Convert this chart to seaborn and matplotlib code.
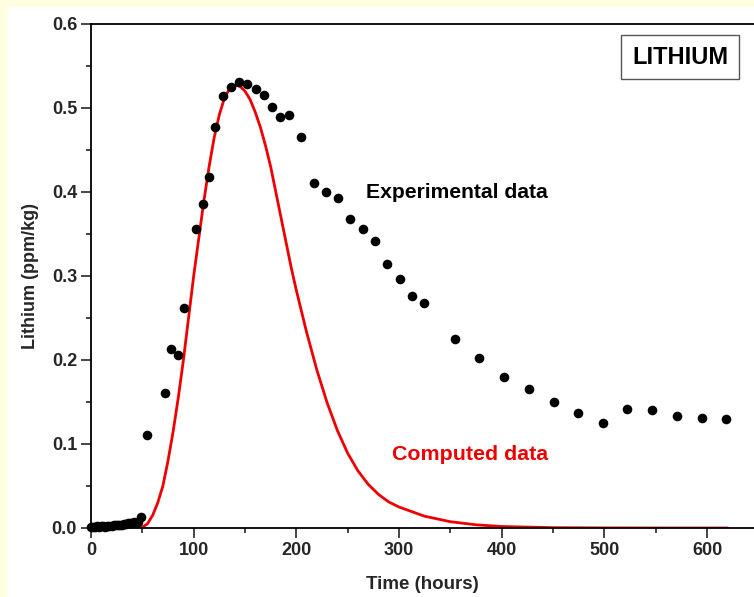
import numpy as np
import pandas as pd
import matplotlib
matplotlib.use("Agg")
import matplotlib.pyplot as plt
from matplotlib.patches import Rectangle
from matplotlib.ticker import MultipleLocator
import seaborn as sns

# ---- data ----
exp_time = [0, 2, 4, 6, 8, 10, 12, 14, 16, 18, 20, 22, 24, 26, 28, 30, 32, 34,
            36, 38, 40, 42, 44, 46, 49,
            54.5, 72, 78, 85, 90.6, 102, 109, 115, 121, 128.6, 136, 144, 152,
            160.7, 168.5, 176, 184, 193, 204.5, 217, 229, 241, 252, 265, 277,
            288, 301, 313, 324, 354.5, 378, 402, 427, 451, 474, 499, 522, 546,
            571, 595, 618.5]
exp_li = [0.001, 0.001, 0.001, 0.002, 0.001, 0.002, 0.002, 0.001, 0.002, 0.002,
          0.002, 0.003, 0.003, 0.003, 0.004, 0.004, 0.005, 0.005, 0.006, 0.006,
          0.006, 0.007, 0.006, 0.007, 0.013,
          0.111, 0.161, 0.213, 0.206, 0.262, 0.356, 0.386, 0.418, 0.477, 0.514,
          0.525, 0.531, 0.529, 0.523, 0.515, 0.501, 0.489, 0.492, 0.465, 0.411,
          0.400, 0.393, 0.368, 0.356, 0.342, 0.314, 0.296, 0.276, 0.268, 0.225,
          0.202, 0.180, 0.165, 0.150, 0.137, 0.125, 0.142, 0.140, 0.133, 0.131,
          0.130]

comp_time = [49, 55, 60, 65, 70, 75, 80, 85, 90, 95, 100, 105, 110, 115, 120,
             125, 130, 135, 140, 145, 150, 155, 160, 165, 170, 175, 180, 185,
             190, 195, 200, 210, 220, 230, 240, 250, 260, 270, 280, 290, 300,
             325, 350, 375, 400, 450, 500, 560, 620]
comp_li = [0.0, 0.005, 0.015, 0.03, 0.05, 0.08, 0.115, 0.155, 0.2, 0.25, 0.3,
           0.345, 0.39, 0.43, 0.465, 0.492, 0.512, 0.523, 0.527, 0.526, 0.52,
           0.51, 0.495, 0.477, 0.455, 0.43, 0.40, 0.37, 0.34, 0.31, 0.283,
           0.233, 0.188, 0.149, 0.116, 0.089, 0.068, 0.052, 0.040, 0.031, 0.025,
           0.014, 0.0075, 0.0038, 0.0018, 0.0004, 0.0001, 0.0, 0.0]

x_ticks = [0, 100, 200, 300, 400, 500, 600]
y_ticks = [0.0, 0.1, 0.2, 0.3, 0.4, 0.5, 0.6]

exp_df = pd.DataFrame({"time": exp_time, "li": exp_li})
comp_df = pd.DataFrame({"time": comp_time, "li": comp_li})

sns.set_style("ticks")
plt.rcParams["font.family"] = ["Liberation Sans", "DejaVu Sans"]
plt.rcParams["font.weight"] = "bold"

W, H = 754, 597
fig = plt.figure(figsize=(W / 100, H / 100), dpi=100)
fig.patch.set_facecolor("#FFFFE0")
fig.patches.append(Rectangle((7 / W, 0), 1, 1 - 7 / H, transform=fig.transFigure,
                             facecolor="white", edgecolor="none", zorder=-10))

ax = fig.add_axes([91 / W, (H - 528) / H, (754 - 91) / W, 504 / H])
ax.set_zorder(5)
ax.set_facecolor("white")

sns.lineplot(data=comp_df, x="time", y="li", ax=ax, color="#EE0000",
             linewidth=2.0, zorder=2)
sns.scatterplot(data=exp_df, x="time", y="li", ax=ax, color="black", s=48,
                edgecolor="black", linewidth=0, zorder=3, clip_on=False)

ax.set_xlim(0, (754 - 91) / 1.0267)
ax.set_ylim(0, 0.6)
ax.set_xticks(x_ticks)
ax.set_yticks(y_ticks)
ax.set_xticklabels([str(v) for v in x_ticks])
ax.set_yticklabels([f"{v:.1f}" for v in y_ticks])
ax.xaxis.set_minor_locator(MultipleLocator(50))
ax.yaxis.set_minor_locator(MultipleLocator(0.05))
ax.tick_params(which="major", direction="out", length=7, width=1.2,
               labelsize=13, pad=3)
ax.tick_params(which="minor", direction="out", length=3.8, width=1.2)
for lab in ax.get_xticklabels() + ax.get_yticklabels():
    lab.set_fontweight("bold")

for side in ["left", "bottom", "top"]:
    ax.spines[side].set_linewidth(1.3)
    ax.spines[side].set_color("black")
ax.spines["right"].set_visible(False)

ax.set_xlabel("Time (hours)", fontsize=13.5, fontweight="bold", labelpad=12)
ax.set_ylabel("Lithium (ppm/kg)", fontsize=13, fontweight="bold", labelpad=9)

ax.text(366 / 1.0267 - 91 / 1.0267, 0.40, "Experimental data", fontsize=15.2,
        fontweight="bold", color="black", va="center", ha="left")
ax.text(392 / 1.0267 - 91 / 1.0267, 0.087, "Computed data", fontsize=15.4,
        fontweight="bold", color="#EE0000", va="center", ha="left")
ax.text((680 - 91) / 1.0267, (528 - 57) / 840, "LITHIUM", fontsize=17,
        fontweight="bold", color="black", va="center", ha="center",
        bbox=dict(boxstyle="square,pad=0.45", facecolor="white",
                  edgecolor="#555555", linewidth=1.0))

fig.savefig("out.png", dpi=100, facecolor=fig.get_facecolor())
